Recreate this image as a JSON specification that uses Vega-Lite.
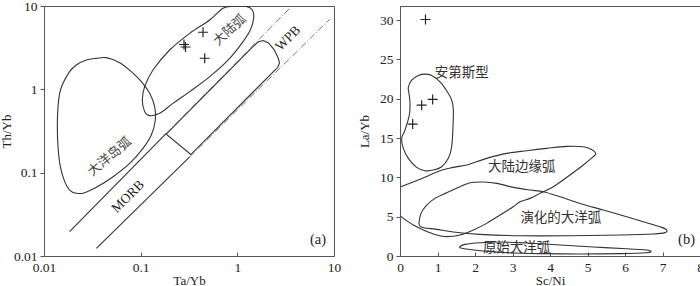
{
  "$schema": "https://vega.github.io/schema/vega-lite/v6.json",
  "autosize": {"type": "pad"},
  "padding": {"left": -1, "top": -2, "right": 0, "bottom": 0},
  "background": "white",
  "bounds": "flush",
  "spacing": 66,
  "config": {
    "view": {"stroke": "#555", "strokeWidth": 1},
    "font": "Liberation Serif",
    "axis": {
      "grid": false,
      "domainColor": "#555",
      "tickColor": "#555",
      "labelFont": "Liberation Serif",
      "labelFontSize": 13.5,
      "labelColor": "#222",
      "titleFont": "Liberation Serif",
      "titleFontSize": 13,
      "titleFontWeight": "normal",
      "titleColor": "#222"
    }
  },
  "hconcat": [
    {
      "width": 290,
      "height": 250,
      "encoding": {
        "x": {"field": "x", "type": "quantitative", "scale": {"type": "log", "domain": [0.01, 10]},
              "axis": {"title": "Ta/Yb", "values": [0.01, 0.1, 1, 10], "format": "~g", "tickSize": -4, "labelPadding": 8, "titlePadding": 1, "labelFlush": false}},
        "y": {"field": "y", "type": "quantitative", "scale": {"type": "log", "domain": [0.01, 10]},
              "axis": {"title": "Th/Yb", "values": [0.01, 0.1, 1, 10], "format": "~g", "tickSize": 4, "labelPadding": 3, "titlePadding": 0, "labelFlush": false}}
      },
      "layer": [
        {
          "data": {"values": [
            {"g": "oia", "o": 1, "x": 0.04415, "y": 2.399},
            {"g": "oia", "o": 2, "x": 0.0607, "y": 2.09},
            {"g": "oia", "o": 3, "x": 0.0801, "y": 1.63},
            {"g": "oia", "o": 4, "x": 0.1016, "y": 1.236},
            {"g": "oia", "o": 5, "x": 0.1239, "y": 0.895},
            {"g": "oia", "o": 6, "x": 0.1396, "y": 0.619},
            {"g": "oia", "o": 7, "x": 0.1419, "y": 0.4285},
            {"g": "oia", "o": 8, "x": 0.1288, "y": 0.283},
            {"g": "oia", "o": 9, "x": 0.1057, "y": 0.196},
            {"g": "oia", "o": 10, "x": 0.0769, "y": 0.1294},
            {"g": "oia", "o": 11, "x": 0.0518, "y": 0.0895},
            {"g": "oia", "o": 12, "x": 0.0348, "y": 0.0667},
            {"g": "oia", "o": 13, "x": 0.02636, "y": 0.0575},
            {"g": "oia", "o": 14, "x": 0.0216, "y": 0.0565},
            {"g": "oia", "o": 15, "x": 0.0184, "y": 0.0619},
            {"g": "oia", "o": 16, "x": 0.01637, "y": 0.078},
            {"g": "oia", "o": 17, "x": 0.01476, "y": 0.118},
            {"g": "oia", "o": 18, "x": 0.01396, "y": 0.205},
            {"g": "oia", "o": 19, "x": 0.01374, "y": 0.356},
            {"g": "oia", "o": 20, "x": 0.01396, "y": 0.619},
            {"g": "oia", "o": 21, "x": 0.01452, "y": 0.895},
            {"g": "oia", "o": 22, "x": 0.01573, "y": 1.18},
            {"g": "oia", "o": 23, "x": 0.0184, "y": 1.63},
            {"g": "oia", "o": 24, "x": 0.0216, "y": 1.959},
            {"g": "oia", "o": 25, "x": 0.0274, "y": 2.249},
            {"g": "oia", "o": 26, "x": 0.0348, "y": 2.355},
            {"g": "ca", "o": 1, "x": 0.711, "y": 9.38},
            {"g": "ca", "o": 2, "x": 0.9016, "y": 9.9},
            {"g": "ca", "o": 3, "x": 1.239, "y": 9.9},
            {"g": "ca", "o": 4, "x": 1.429, "y": 8.95},
            {"g": "ca", "o": 5, "x": 1.475, "y": 7.11},
            {"g": "ca", "o": 6, "x": 1.362, "y": 5.15},
            {"g": "ca", "o": 7, "x": 1.145, "y": 3.73},
            {"g": "ca", "o": 8, "x": 0.834, "y": 2.355},
            {"g": "ca", "o": 9, "x": 0.518, "y": 1.419},
            {"g": "ca", "o": 10, "x": 0.3215, "y": 0.938},
            {"g": "ca", "o": 11, "x": 0.216, "y": 0.679},
            {"g": "ca", "o": 12, "x": 0.1573, "y": 0.515},
            {"g": "ca", "o": 13, "x": 0.1239, "y": 0.483},
            {"g": "ca", "o": 14, "x": 0.11, "y": 0.54},
            {"g": "ca", "o": 15, "x": 0.104, "y": 0.745},
            {"g": "ca", "o": 16, "x": 0.11, "y": 1.076},
            {"g": "ca", "o": 17, "x": 0.134, "y": 1.706},
            {"g": "ca", "o": 18, "x": 0.1995, "y": 2.965},
            {"g": "ca", "o": 19, "x": 0.3215, "y": 4.7},
            {"g": "ca", "o": 20, "x": 0.518, "y": 6.79}
          ]},
          "mark": {"type": "line", "interpolate": "cardinal-closed", "color": "#333", "strokeWidth": 1.1, "clip": true},
          "encoding": {"detail": {"field": "g"}, "order": {"field": "o", "type": "quantitative"}}
        },
        {
          "data": {"values": [
            {"o": 1, "x": 0.184, "y": 0.29},
            {"o": 2, "x": 1.45, "y": 3.25},
            {"o": 3, "x": 1.65, "y": 3.72},
            {"o": 4, "x": 1.85, "y": 3.85},
            {"o": 5, "x": 2.1, "y": 3.6},
            {"o": 6, "x": 2.4, "y": 3.0},
            {"o": 7, "x": 2.64, "y": 2.4},
            {"o": 8, "x": 2.73, "y": 2.07},
            {"o": 9, "x": 2.62, "y": 1.84},
            {"o": 10, "x": 2.45, "y": 1.7},
            {"o": 11, "x": 0.33, "y": 0.165}
          ]},
          "mark": {"type": "line", "interpolate": "linear-closed", "color": "#333", "strokeWidth": 1.1, "clip": true},
          "encoding": {"order": {"field": "o", "type": "quantitative"}}
        },
        {
          "data": {"values": [
            {"g": "up", "o": 1, "x": 0.0184, "y": 0.0196},
            {"g": "up", "o": 2, "x": 0.184, "y": 0.296},
            {"g": "lo", "o": 1, "x": 0.0348, "y": 0.01236},
            {"g": "lo", "o": 2, "x": 0.3215, "y": 0.155}
          ]},
          "mark": {"type": "line", "color": "#333", "strokeWidth": 1.1, "clip": true},
          "encoding": {"detail": {"field": "g"}, "order": {"field": "o", "type": "quantitative"}}
        },
        {
          "data": {"values": [
            {"g": "up", "o": 1, "x": 0.184, "y": 0.296},
            {"g": "up", "o": 2, "x": 3.48, "y": 9.38},
            {"g": "lo", "o": 1, "x": 0.3215, "y": 0.155},
            {"g": "lo", "o": 2, "x": 9.02, "y": 6.92}
          ]},
          "mark": {"type": "line", "color": "#666", "strokeWidth": 0.9, "strokeDash": [7, 2, 1, 2], "clip": true},
          "encoding": {"detail": {"field": "g"}, "order": {"field": "o", "type": "quantitative"}}
        },
        {
          "data": {"values": [
            {"x": 0.4416, "y": 4.84},
            {"x": 0.2807, "y": 3.45},
            {"x": 0.291, "y": 3.22},
            {"x": 0.4597, "y": 2.36}
          ]},
          "mark": {"type": "point", "shape": "M-1,0L1,0M0,-1L0,1", "filled": false, "size": 100, "stroke": "#222", "strokeWidth": 1.2, "opacity": 1}
        },
        {
          "data": {"values": [{"x": 0.0478, "y": 0.1556, "t": "大洋岛弧"}]},
          "mark": {"type": "text", "font": "Noto Sans CJK SC", "fontSize": 13, "color": "#444", "angle": 320, "align": "center", "baseline": "middle"},
          "encoding": {"text": {"field": "t"}}
        },
        {
          "data": {"values": [{"x": 0.834, "y": 5.15, "t": "大陆弧"}]},
          "mark": {"type": "text", "font": "Noto Sans CJK SC", "fontSize": 13, "color": "#444", "angle": 318, "align": "center", "baseline": "middle"},
          "encoding": {"text": {"field": "t"}}
        },
        {
          "data": {"values": [{"x": 3.34, "y": 4.09, "t": "WPB"}, {"x": 0.074, "y": 0.0515, "t": "MORB"}]},
          "mark": {"type": "text", "font": "Liberation Serif", "fontSize": 13.5, "color": "#222", "angle": 315, "align": "center", "baseline": "middle"},
          "encoding": {"text": {"field": "t"}}
        },
        {
          "data": {"values": [{"x": 6.83, "y": 0.01556, "t": "(a)"}]},
          "mark": {"type": "text", "font": "Liberation Serif", "fontSize": 14.5, "color": "#222", "align": "center", "baseline": "middle"},
          "encoding": {"text": {"field": "t"}}
        }
      ]
    },
    {
      "width": 300,
      "height": 250,
      "encoding": {
        "x": {"field": "x", "type": "quantitative", "scale": {"domain": [0, 8], "nice": false},
              "axis": {"title": "Sc/Ni", "values": [0, 1, 2, 3, 4, 5, 6, 7, 8], "tickSize": -4, "labelPadding": 8, "titlePadding": 1, "labelFlush": false}},
        "y": {"field": "y", "type": "quantitative", "scale": {"domain": [0, 31.8], "nice": false},
              "axis": {"title": "La/Yb", "values": [0, 5, 10, 15, 20, 25, 30], "tickSize": 4, "labelPadding": 3, "titlePadding": 8, "labelFlush": false}}
      },
      "layer": [
        {
          "data": {"values": [
            {"g": "and", "o": 1, "x": 0.222, "y": 21.44},
            {"g": "and", "o": 2, "x": 0.311, "y": 22.37},
            {"g": "and", "o": 3, "x": 0.489, "y": 22.97},
            {"g": "and", "o": 4, "x": 0.667, "y": 23.14},
            {"g": "and", "o": 5, "x": 0.844, "y": 22.97},
            {"g": "and", "o": 6, "x": 1.067, "y": 22.16},
            {"g": "and", "o": 7, "x": 1.244, "y": 21.02},
            {"g": "and", "o": 8, "x": 1.378, "y": 19.83},
            {"g": "and", "o": 9, "x": 1.422, "y": 18.56},
            {"g": "and", "o": 10, "x": 1.413, "y": 16.44},
            {"g": "and", "o": 11, "x": 1.378, "y": 13.9},
            {"g": "and", "o": 12, "x": 1.289, "y": 12.42},
            {"g": "and", "o": 13, "x": 1.111, "y": 11.36},
            {"g": "and", "o": 14, "x": 0.889, "y": 10.93},
            {"g": "and", "o": 15, "x": 0.667, "y": 10.85},
            {"g": "and", "o": 16, "x": 0.444, "y": 11.27},
            {"g": "and", "o": 17, "x": 0.222, "y": 12.42},
            {"g": "and", "o": 18, "x": 0.089, "y": 13.69},
            {"g": "and", "o": 19, "x": 0.044, "y": 14.96},
            {"g": "and", "o": 20, "x": 0.133, "y": 16.02},
            {"g": "and", "o": 21, "x": 0.249, "y": 17.92},
            {"g": "and", "o": 22, "x": 0.267, "y": 19.41},
            {"g": "and", "o": 23, "x": 0.24, "y": 20.68},
            {"g": "evo", "o": 1, "x": 0.507, "y": 4.24},
            {"g": "evo", "o": 2, "x": 0.56, "y": 5.42},
            {"g": "evo", "o": 3, "x": 0.711, "y": 6.48},
            {"g": "evo", "o": 4, "x": 0.933, "y": 7.33},
            {"g": "evo", "o": 5, "x": 1.244, "y": 8.05},
            {"g": "evo", "o": 6, "x": 1.6, "y": 8.81},
            {"g": "evo", "o": 7, "x": 1.867, "y": 9.32},
            {"g": "evo", "o": 8, "x": 2.222, "y": 9.41},
            {"g": "evo", "o": 9, "x": 2.578, "y": 9.24},
            {"g": "evo", "o": 10, "x": 3.022, "y": 8.73},
            {"g": "evo", "o": 11, "x": 3.467, "y": 8.39},
            {"g": "evo", "o": 12, "x": 3.822, "y": 8.18},
            {"g": "evo", "o": 13, "x": 4.267, "y": 7.54},
            {"g": "evo", "o": 14, "x": 4.8, "y": 6.69},
            {"g": "evo", "o": 15, "x": 5.422, "y": 5.85},
            {"g": "evo", "o": 16, "x": 6.044, "y": 5.0},
            {"g": "evo", "o": 17, "x": 6.578, "y": 4.24},
            {"g": "evo", "o": 18, "x": 6.978, "y": 3.64},
            {"g": "evo", "o": 19, "x": 7.111, "y": 3.31},
            {"g": "evo", "o": 20, "x": 7.067, "y": 2.97},
            {"g": "evo", "o": 21, "x": 6.756, "y": 2.8},
            {"g": "evo", "o": 22, "x": 5.867, "y": 2.67},
            {"g": "evo", "o": 23, "x": 4.533, "y": 2.58},
            {"g": "evo", "o": 24, "x": 3.2, "y": 2.58},
            {"g": "evo", "o": 25, "x": 2.133, "y": 2.75},
            {"g": "evo", "o": 26, "x": 1.422, "y": 3.05},
            {"g": "evo", "o": 27, "x": 0.978, "y": 3.39},
            {"g": "evo", "o": 28, "x": 0.667, "y": 3.56},
            {"g": "evo", "o": 29, "x": 0.533, "y": 3.81},
            {"g": "pri", "o": 1, "x": 1.6, "y": 1.19},
            {"g": "pri", "o": 2, "x": 1.733, "y": 1.48},
            {"g": "pri", "o": 3, "x": 2.133, "y": 1.69},
            {"g": "pri", "o": 4, "x": 2.667, "y": 1.78},
            {"g": "pri", "o": 5, "x": 3.378, "y": 1.65},
            {"g": "pri", "o": 6, "x": 4.267, "y": 1.4},
            {"g": "pri", "o": 7, "x": 5.156, "y": 1.14},
            {"g": "pri", "o": 8, "x": 6.044, "y": 0.93},
            {"g": "pri", "o": 9, "x": 6.578, "y": 0.76},
            {"g": "pri", "o": 10, "x": 6.693, "y": 0.59},
            {"g": "pri", "o": 11, "x": 6.578, "y": 0.42},
            {"g": "pri", "o": 12, "x": 5.867, "y": 0.3},
            {"g": "pri", "o": 13, "x": 4.8, "y": 0.25},
            {"g": "pri", "o": 14, "x": 3.733, "y": 0.3},
            {"g": "pri", "o": 15, "x": 2.844, "y": 0.42},
            {"g": "pri", "o": 16, "x": 2.222, "y": 0.64},
            {"g": "pri", "o": 17, "x": 1.822, "y": 0.85},
            {"g": "pri", "o": 18, "x": 1.618, "y": 1.02}
          ]},
          "mark": {"type": "line", "interpolate": "cardinal-closed", "color": "#333", "strokeWidth": 1.1, "clip": true},
          "encoding": {"detail": {"field": "g"}, "order": {"field": "o", "type": "quantitative"}}
        },
        {
          "data": {"values": [
            {"o": 1, "x": 0.018, "y": 8.81},
            {"o": 2, "x": 0.533, "y": 9.75},
            {"o": 3, "x": 1.067, "y": 10.85},
            {"o": 4, "x": 1.422, "y": 11.27},
            {"o": 5, "x": 1.778, "y": 11.57},
            {"o": 6, "x": 1.956, "y": 11.86},
            {"o": 7, "x": 2.311, "y": 12.42},
            {"o": 8, "x": 2.844, "y": 13.05},
            {"o": 9, "x": 3.378, "y": 13.39},
            {"o": 10, "x": 3.911, "y": 13.69},
            {"o": 11, "x": 4.444, "y": 13.94},
            {"o": 12, "x": 4.889, "y": 13.9},
            {"o": 13, "x": 5.111, "y": 13.56},
            {"o": 14, "x": 5.218, "y": 13.05},
            {"o": 15, "x": 5.156, "y": 12.63},
            {"o": 16, "x": 4.889, "y": 11.57},
            {"o": 17, "x": 4.533, "y": 10.3},
            {"o": 18, "x": 4.089, "y": 8.81},
            {"o": 19, "x": 3.733, "y": 7.97},
            {"o": 20, "x": 3.467, "y": 7.33},
            {"o": 21, "x": 3.2, "y": 6.91},
            {"o": 22, "x": 3.022, "y": 6.27},
            {"o": 23, "x": 2.667, "y": 5.21},
            {"o": 24, "x": 2.311, "y": 4.15},
            {"o": 25, "x": 1.956, "y": 3.31},
            {"o": 26, "x": 1.6, "y": 2.67},
            {"o": 27, "x": 1.244, "y": 2.46},
            {"o": 28, "x": 0.978, "y": 2.67},
            {"o": 29, "x": 0.622, "y": 3.31},
            {"o": 30, "x": 0.356, "y": 3.94},
            {"o": 31, "x": 0.178, "y": 4.49},
            {"o": 32, "x": 0.018, "y": 5.08}
          ]},
          "mark": {"type": "line", "interpolate": "cardinal", "color": "#333", "strokeWidth": 1.1, "clip": true},
          "encoding": {"order": {"field": "o", "type": "quantitative"}}
        },
        {
          "data": {"values": [
            {"x": 0.578, "y": 19.19},
            {"x": 0.871, "y": 19.92},
            {"x": 0.338, "y": 16.78},
            {"x": 0.68, "y": 30.08}
          ]},
          "mark": {"type": "point", "shape": "M-1,0L1,0M0,-1L0,1", "filled": false, "size": 100, "stroke": "#222", "strokeWidth": 1.2, "opacity": 1}
        },
        {
          "data": {"values": [
            {"x": 1.644, "y": 23.3, "t": "安第斯型"},
            {"x": 3.244, "y": 11.27, "t": "大陆边缘弧"},
            {"x": 4.29, "y": 4.79, "t": "演化的大洋弧"},
            {"x": 3.11, "y": 0.97, "t": "原始大洋弧"}
          ]},
          "mark": {"type": "text", "font": "Noto Sans CJK SC", "fontSize": 13.5, "color": "#333", "align": "center", "baseline": "middle"},
          "encoding": {"text": {"field": "t"}}
        },
        {
          "data": {"values": [{"x": 7.64, "y": 2.03, "t": "(b)"}]},
          "mark": {"type": "text", "font": "Liberation Serif", "fontSize": 14.5, "color": "#222", "align": "center", "baseline": "middle"},
          "encoding": {"text": {"field": "t"}}
        }
      ]
    }
  ]
}
